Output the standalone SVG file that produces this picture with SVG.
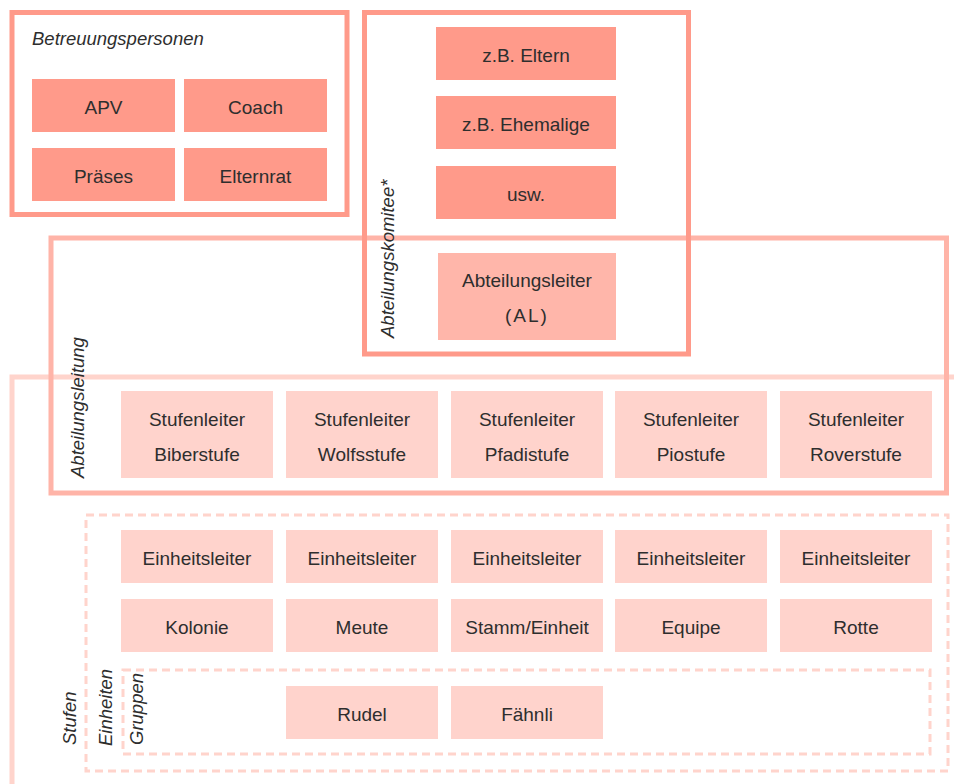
<svg xmlns="http://www.w3.org/2000/svg" width="954" height="784" viewBox="0 0 954 784">
  <style>
    .frame { fill: none; stroke-width: 5; }
    .strong { stroke: #ff9a8a; }
    .medium { stroke: #ffb4a8; }
    .light { stroke: #ffd4cc; }
    .dashed { fill: none; stroke: #ffd4cc; stroke-width: 3; stroke-dasharray: 8 5; }
    .n1 { fill: #ff9a8a; }
    .n2 { fill: #ffb6aa; }
    .n3 { fill: #ffd3cc; }
    .t { font-family: "Liberation Sans", Arial, sans-serif; font-size: 19px; fill: #2e2e2e; text-anchor: middle; }
    .lbl { font-family: "Liberation Sans", Arial, sans-serif; font-size: 18.5px; font-style: italic; fill: #2e2e2e; }
  </style>

  <rect width="954" height="784" fill="#ffffff"/>

  <!-- Stufen: outer frame running off the right and bottom edges -->
  <g id="stufen">
    <rect class="frame light" x="12" y="377" width="970" height="430"/>
    <text class="lbl" transform="translate(76,745) rotate(-90)">Stufen</text>
  </g>

  <!-- Einheiten (dashed) -->
  <g id="einheiten">
    <rect class="dashed" x="86" y="515" width="862" height="256"/>
    <text class="lbl" transform="translate(112,746) rotate(-90)">Einheiten</text>
  </g>

  <g id="einheitsleiter">
    <g id="el-biber"><rect class="n3" x="121" y="530" width="152" height="53"/><text class="t" x="197" y="565">Einheitsleiter</text></g>
    <g id="el-wolf"><rect class="n3" x="286" y="530" width="152" height="53"/><text class="t" x="362" y="565">Einheitsleiter</text></g>
    <g id="el-pfadi"><rect class="n3" x="451" y="530" width="152" height="53"/><text class="t" x="527" y="565">Einheitsleiter</text></g>
    <g id="el-pio"><rect class="n3" x="615" y="530" width="152" height="53"/><text class="t" x="691" y="565">Einheitsleiter</text></g>
    <g id="el-rover"><rect class="n3" x="780" y="530" width="152" height="53"/><text class="t" x="856" y="565">Einheitsleiter</text></g>
  </g>

  <g id="einheiten-namen">
    <g id="kolonie"><rect class="n3" x="121" y="599" width="152" height="53"/><text class="t" x="197" y="634">Kolonie</text></g>
    <g id="meute"><rect class="n3" x="286" y="599" width="152" height="53"/><text class="t" x="362" y="634">Meute</text></g>
    <g id="stamm"><rect class="n3" x="451" y="599" width="152" height="53"/><text class="t" x="527" y="634">Stamm/Einheit</text></g>
    <g id="equipe"><rect class="n3" x="615" y="599" width="152" height="53"/><text class="t" x="691" y="634">Equipe</text></g>
    <g id="rotte"><rect class="n3" x="780" y="599" width="152" height="53"/><text class="t" x="856" y="634">Rotte</text></g>
  </g>

  <!-- Gruppen (dashed) -->
  <g id="gruppen">
    <rect class="dashed" x="123" y="670" width="807" height="84"/>
    <text class="lbl" transform="translate(143,745) rotate(-90)">Gruppen</text>
    <g id="rudel"><rect class="n3" x="286" y="686" width="152" height="53"/><text class="t" x="362" y="721">Rudel</text></g>
    <g id="faehnli"><rect class="n3" x="451" y="686" width="152" height="53"/><text class="t" x="527" y="721">Fähnli</text></g>
  </g>

  <!-- Abteilungsleitung -->
  <g id="abteilungsleitung">
    <rect class="frame medium" x="51" y="238" width="895.5" height="255"/>
    <text class="lbl" transform="translate(84,478) rotate(-90)">Abteilungsleitung</text>
    <g id="sl-biber"><rect class="n3" x="121" y="391" width="152" height="87"/><text class="t" x="197" y="426">Stufenleiter</text><text class="t" x="197" y="461">Biberstufe</text></g>
    <g id="sl-wolf"><rect class="n3" x="286" y="391" width="152" height="87"/><text class="t" x="362" y="426">Stufenleiter</text><text class="t" x="362" y="461">Wolfsstufe</text></g>
    <g id="sl-pfadi"><rect class="n3" x="451" y="391" width="152" height="87"/><text class="t" x="527" y="426">Stufenleiter</text><text class="t" x="527" y="461">Pfadistufe</text></g>
    <g id="sl-pio"><rect class="n3" x="615" y="391" width="152" height="87"/><text class="t" x="691" y="426">Stufenleiter</text><text class="t" x="691" y="461">Piostufe</text></g>
    <g id="sl-rover"><rect class="n3" x="780" y="391" width="152" height="87"/><text class="t" x="856" y="426">Stufenleiter</text><text class="t" x="856" y="461">Roverstufe</text></g>
  </g>

  <!-- Abteilungskomitee -->
  <g id="abteilungskomitee">
    <rect class="frame strong" x="364.5" y="12.5" width="324" height="341.5"/>
    <text class="lbl" transform="translate(394,338) rotate(-90)">Abteilungskomitee*</text>
    <g id="eltern"><rect class="n1" x="436" y="27" width="180" height="53"/><text class="t" x="526" y="62">z.B. Eltern</text></g>
    <g id="ehemalige"><rect class="n1" x="436" y="96" width="180" height="53"/><text class="t" x="526" y="131">z.B. Ehemalige</text></g>
    <g id="usw"><rect class="n1" x="436" y="166" width="180" height="53"/><text class="t" x="526" y="201">usw.</text></g>
    <g id="al"><rect class="n2" x="438" y="253" width="178" height="87"/><text class="t" x="527" y="287">Abteilungsleiter</text><text class="t" x="527" y="322" letter-spacing="2">(AL)</text></g>
  </g>

  <!-- Betreuungspersonen -->
  <g id="betreuungspersonen">
    <rect class="frame strong" x="12" y="12.5" width="335" height="202"/>
    <text class="lbl" x="32" y="45">Betreuungspersonen</text>
    <g id="apv"><rect class="n1" x="32" y="79" width="143" height="53"/><text class="t" x="103.5" y="114">APV</text></g>
    <g id="coach"><rect class="n1" x="184" y="79" width="143" height="53"/><text class="t" x="255.5" y="114">Coach</text></g>
    <g id="praeses"><rect class="n1" x="32" y="148" width="143" height="53"/><text class="t" x="103.5" y="183">Präses</text></g>
    <g id="elternrat"><rect class="n1" x="184" y="148" width="143" height="53"/><text class="t" x="255.5" y="183">Elternrat</text></g>
  </g>
</svg>
